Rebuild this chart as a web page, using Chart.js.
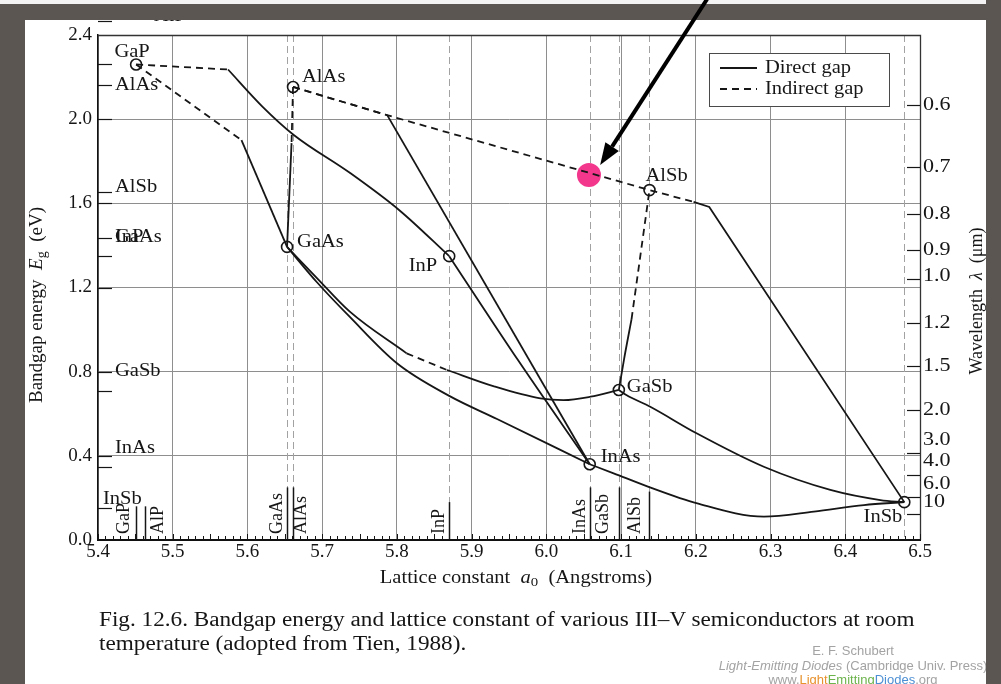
<!DOCTYPE html>
<html>
<head>
<meta charset="utf-8">
<script src="https://cdn.jsdelivr.net/npm/chart.js@4.4.1/dist/chart.umd.min.js"></script>
<style>
  html, body { margin: 0; padding: 0; background: #5b5651; }
  #wrap { position: relative; width: 1001px; height: 684px; overflow: hidden; }
  canvas { position: absolute; left: 0; top: 0; }
  .caption { position: absolute; left: 99px; top: 607px; font: 20px "Liberation Serif", serif; line-height: 24px; color: #151515; white-space: nowrap; transform: scaleX(1.16); transform-origin: 0 0; }
  .credit { position: absolute; left: 703px; width: 300px; text-align: center; font: 13px "Liberation Sans", Arial, sans-serif; color: #a3a3a3; white-space: nowrap; }
  #frameR { position: absolute; left: 986px; top: 0; width: 15px; height: 684px; background: #5b5651; }
</style>
</head>
<body>
<div id="wrap">
  <canvas id="gapChart" width="1001" height="684"></canvas>
  <div class="caption">Fig. 12.6. Bandgap energy and lattice constant of various III&ndash;V semiconductors at room<br>temperature (adopted from Tien, 1988).</div>
  <div class="credit" style="top:643px">E. F. Schubert</div>
  <div class="credit" style="top:658px"><i>Light-Emitting Diodes</i> (Cambridge Univ. Press)</div>
  <div class="credit" style="top:672px">www.<span style="color:#e8922e">Light</span><span style="color:#6cb34c">Emitting</span><span style="color:#4d8fd3">Diodes</span>.org</div>
  <div id="frameR"></div>
</div>
<script>
// ---- binary compounds: lattice constant a0 (Angstrom) and bandgap (eV) ----
const materials = ['GaP', 'AlP', 'AlAs', 'GaAs', 'InP', 'InAs', 'GaSb', 'AlSb', 'InSb'];
const latticeA  = [5.451, 5.463, 5.661, 5.653, 5.870, 6.058, 6.097, 6.138, 6.479];
const gapE      = [2.26, 2.465, 2.153, 1.393, 1.349, 0.360, 0.713, 1.663, 0.180];

// ternary lines, indirect gap (dashed)
const indGaP_InP   = [[5.451, 2.260], [5.574, 2.236]];
const indGaP_GaAs  = [[5.451, 2.260], [5.592, 1.900]];
const indAlAs_GaAs = [[5.661, 2.153], [5.659, 1.886]];
const indAlAs_InAs = [[5.661, 2.153], [5.787, 2.019]];
const indAlAs_AlSb = [[5.661, 2.153], [5.787, 2.019], [6.138, 1.663], [6.197, 1.607]];
const indGaAs_GaSb = [[5.813, 0.887], [5.867, 0.808]];
const indGaSb_AlSb = [[6.114, 1.050], [6.138, 1.663]];

// ternary lines, direct gap (solid)
const dirGaP_InP    = [[5.574, 2.236], [5.620, 2.060], [5.662, 1.925], [5.737, 1.745], [5.804, 1.565], [5.870, 1.349]];
const dirGaP_GaAs   = [[5.592, 1.900], [5.653, 1.393]];
const dirAlAs_GaAs  = [[5.659, 1.886], [5.653, 1.393]];
const dirAlAs_InAs  = [[5.787, 2.019], [6.058, 0.360]];
const dirAlSb_InSb  = [[6.197, 1.607], [6.218, 1.583], [6.479, 0.180]];
const dirInP_InAs   = [[5.870, 1.349], [5.962, 0.855], [6.058, 0.360]];
const dirGaAs_InAs  = [[5.653, 1.393], [5.693, 1.225], [5.737, 1.060], [5.800, 0.840], [5.870, 0.685], [5.934, 0.575], [6.058, 0.360]];
const dirGaAs_GaSb1 = [[5.653, 1.393], [5.693, 1.245], [5.737, 1.085], [5.813, 0.887]];
const dirGaAs_GaSb2 = [[5.867, 0.808], [5.930, 0.730], [5.992, 0.673], [6.023, 0.665], [6.059, 0.681], [6.097, 0.713]];
const dirGaSb_AlSb  = [[6.097, 0.713], [6.104, 0.860], [6.114, 1.050]];
const dirGaSb_InSb  = [[6.097, 0.713], [6.107, 0.689], [6.139, 0.633], [6.201, 0.507], [6.291, 0.348], [6.380, 0.238], [6.447, 0.190], [6.479, 0.180]];
const dirInAs_InSb  = [[6.058, 0.360], [6.090, 0.317], [6.135, 0.255], [6.202, 0.174], [6.291, 0.111], [6.358, 0.135], [6.425, 0.166], [6.479, 0.180]];

// highlighted point on the AlAs-AlSb line
const markA = [6.057];
const markE = [1.735];

// axis annotations
const leftTickE    = [2.465, 2.26, 2.16, 1.653, 1.435, 1.349, 0.708, 0.347, 0.152];
const leftLabels   = ['AlAs', 'AlSb', 'GaAs', 'InP', 'GaSb', 'InAs', 'InSb'];
const leftLabelE   = [2.160, 1.677, 1.437, 1.437, 0.803, 0.437, 0.195];
const lambdaTicks  = [0.6, 0.7, 0.8, 0.9, 1.0, 1.2, 1.5, 2.0, 3.0, 4.0, 6.0, 10];
const lambdaLabels = ['0.6', '0.7', '0.8', '0.9', '1.0', '1.2', '1.5', '2.0', '3.0', '4.0', '6.0', '10'];
const dashedLines  = ['GaAs', 'AlAs', 'InP', 'InAs', 'GaSb', 'AlSb', 'InSb'];
const footMats     = ['GaP', 'AlP', 'GaAs', 'AlAs', 'InP', 'InAs', 'GaSb', 'AlSb'];
const footTopE     = [0.16, 0.16, 0.25, 0.25, 0.18, 0.25, 0.25, 0.23];
const arrowFrom    = [6.215, 2.57];
const arrowTo      = [6.072, 1.782];

const INK = '#161616';
const GRID = '#8e8e8e';
const BG = '#5b5651';
const SERIF = '"Liberation Serif", "Times New Roman", serif';
const SX = 1.14;   // the scanned figure's lettering is a bit wide

const toXY = arr => arr.map(p => ({ x: p[0], y: p[1] }));
const aOf = m => latticeA[materials.indexOf(m)];

function seg(pts, dashed, smooth) {
    return {
        data: toXY(pts),
        showLine: true,
        borderColor: INK,
        borderWidth: 1.8,
        borderDash: dashed ? [7, 5] : [],
        pointRadius: 0,
        cubicInterpolationMode: smooth ? 'monotone' : 'default',
        tension: 0,
    };
}

// where the compound names go next to their circles (px offsets)
const pointLabelPos = {
    GaP:  { dx: -4, dy: -12, align: 'center' },
    AlP:  { dx: 9,  dy: -5,  align: 'left' },
    AlAs: { dx: 9,  dy: -10, align: 'left' },
    GaAs: { dx: 10, dy: -5,  align: 'left' },
    InP:  { dx: -12, dy: 10, align: 'right' },
    InAs: { dx: 11, dy: -7,  align: 'left' },
    GaSb: { dx: 8,  dy: -3,  align: 'left' },
    AlSb: { dx: -4, dy: -14, align: 'left' },
    InSb: { dx: -2, dy: 15,  align: 'right' },
};
const footLabelDx = { GaP: -13, AlP: 12, GaAs: -11, AlAs: 7, InP: -11, InAs: -10, GaSb: -17, AlSb: -15 };

function txt(ctx, s, x, y, align, sx) {
    ctx.save();
    ctx.translate(x, y);
    ctx.scale(sx || SX, 1);
    ctx.textAlign = align || 'left';
    ctx.fillText(s, 0, 0);
    ctx.restore();
}

function richText(ctx, parts, x, y, align, sx) {
    // parts: [text, font, dy]
    let w = 0;
    parts.forEach(p => { ctx.font = p[1]; w += ctx.measureText(p[0]).width; });
    ctx.save();
    ctx.translate(x, y);
    ctx.scale(sx || SX, 1);
    let cx = align === 'center' ? -w / 2 : 0;
    ctx.textAlign = 'left';
    parts.forEach(p => {
        ctx.font = p[1];
        ctx.fillText(p[0], cx, p[2] || 0);
        cx += ctx.measureText(p[0]).width;
    });
    ctx.restore();
}

const decor = {
    id: 'decor',
    beforeDraw(chart) {
        const ctx = chart.ctx;
        ctx.save();
        ctx.fillStyle = BG;
        ctx.fillRect(0, 0, chart.width, chart.height);
        ctx.fillStyle = '#ffffff';
        ctx.fillRect(25, 20, 961, 664);
        ctx.restore();
    },
    beforeDatasetsDraw(chart) {
        const { ctx, chartArea: ca, scales: { x, y } } = chart;
        ctx.save();
        // dashed verticals at the binary lattice constants
        ctx.strokeStyle = '#a2a2a2';
        ctx.lineWidth = 1;
        ctx.setLineDash([7, 4]);
        dashedLines.forEach(m => {
            const px = Math.round(x.getPixelForValue(aOf(m))) + 0.5;
            ctx.beginPath(); ctx.moveTo(px, ca.top); ctx.lineTo(px, ca.bottom); ctx.stroke();
        });
        ctx.setLineDash([]);
        // solid foot markers
        ctx.strokeStyle = INK;
        ctx.lineWidth = 1.5;
        footMats.forEach((m, i) => {
            const px = Math.round(x.getPixelForValue(aOf(m))) + 0.5;
            ctx.beginPath(); ctx.moveTo(px, ca.bottom); ctx.lineTo(px, y.getPixelForValue(footTopE[i])); ctx.stroke();
        });
        // frame top + right
        ctx.strokeStyle = '#333';
        ctx.lineWidth = 1.3;
        ctx.beginPath();
        ctx.moveTo(ca.left, ca.top + 0.5); ctx.lineTo(ca.right + 0.5, ca.top + 0.5); ctx.lineTo(ca.right + 0.5, ca.bottom);
        ctx.stroke();
        // minor ticks on x axis (inward)
        ctx.strokeStyle = INK;
        ctx.lineWidth = 1;
        for (let k = 0; k <= 110; k++) {
            const px = Math.round(x.getPixelForValue(5.4 + k * 0.01)) + 0.5;
            const len = k % 5 === 0 ? 6 : 4;
            ctx.beginPath(); ctx.moveTo(px, ca.bottom); ctx.lineTo(px, ca.bottom - len); ctx.stroke();
        }
        // inward ticks on left axis
        ctx.lineWidth = 1.2;
        const majors = [0.4, 0.8, 1.2, 1.6, 2.0];
        majors.concat(leftTickE).forEach(e => {
            const py = Math.round(y.getPixelForValue(e)) + 0.5;
            ctx.beginPath(); ctx.moveTo(ca.left, py); ctx.lineTo(ca.left + 14, py); ctx.stroke();
        });
        // wavelength ticks on right axis (inward)
        lambdaTicks.forEach(l => {
            const py = Math.round(y.getPixelForValue(1.24 / l)) + 0.5;
            ctx.beginPath(); ctx.moveTo(ca.right - 13, py); ctx.lineTo(ca.right, py); ctx.stroke();
        });
        ctx.restore();
    },
    afterDatasetsDraw(chart) {
        const { ctx, chartArea: ca, scales: { x, y } } = chart;
        ctx.save();
        ctx.fillStyle = INK;
        ctx.textBaseline = 'middle';
        ctx.font = '18px ' + SERIF;
        // labels at the circles
        materials.forEach((m, i) => {
            const p = pointLabelPos[m];
            txt(ctx, m, x.getPixelForValue(latticeA[i]) + p.dx, y.getPixelForValue(gapE[i]) + p.dy, p.align);
        });
        // labels along the energy axis
        leftLabels.forEach((t, i) => {
            const lx = t === 'InSb' ? ca.left + 5 : ca.left + 17;
            txt(ctx, t, lx, y.getPixelForValue(leftLabelE[i]), 'left');
        });
        // rotated labels at the feet
        footMats.forEach(m => {
            ctx.save();
            ctx.translate(x.getPixelForValue(aOf(m)) + footLabelDx[m], ca.bottom - 6);
            ctx.rotate(-Math.PI / 2);
            ctx.textAlign = 'left';
            ctx.fillText(m, 0, 1);
            ctx.restore();
        });
        // wavelength labels
        ctx.font = '19px ' + SERIF;
        const shift = [0, 0, 0, 0, -3, 0, 0, 0, -13, -14, -12, -12];
        lambdaTicks.forEach((l, i) => {
            txt(ctx, lambdaLabels[i], ca.right + 3, y.getPixelForValue(1.24 / l) + shift[i], 'left', 1.16);
        });
        // axis titles
        const f = '18px ' + SERIF, fi = 'italic 18px ' + SERIF, fs = '13px ' + SERIF;
        richText(ctx, [['Lattice constant  ', f], ['a', fi], ['0', fs, 5], ['  (Angstroms)', f]], 516, 578, 'center');
        const f2 = '19px ' + SERIF, fi2 = 'italic 19px ' + SERIF, fs2 = '14px ' + SERIF;
        ctx.save();
        ctx.translate(37, 305); ctx.rotate(-Math.PI / 2);
        richText(ctx, [['Bandgap energy  ', f2], ['E', fi2], ['g', fs2, 5], ['  (eV)', f2]], 0, 0, 'center', 1);
        ctx.restore();
        ctx.save();
        ctx.translate(977, 301); ctx.rotate(-Math.PI / 2);
        richText(ctx, [['Wavelength  ', f], ['\u03bb', fi], ['  (\u03bcm)', f]], 0, 0, 'center', 1);
        ctx.restore();
        // legend box
        ctx.fillStyle = '#fff';
        ctx.fillRect(709.5, 53.5, 180, 53);
        ctx.strokeStyle = '#4a4a4a'; ctx.lineWidth = 1;
        ctx.strokeRect(709.5, 53.5, 180, 53);
        ctx.strokeStyle = INK; ctx.lineWidth = 1.8;
        ctx.beginPath(); ctx.moveTo(720, 68); ctx.lineTo(757, 68); ctx.stroke();
        ctx.setLineDash([7, 5]);
        ctx.beginPath(); ctx.moveTo(720, 89); ctx.lineTo(757, 89); ctx.stroke();
        ctx.setLineDash([]);
        ctx.fillStyle = INK; ctx.font = '18px ' + SERIF;
        txt(ctx, 'Direct gap', 765, 68, 'left');
        txt(ctx, 'Indirect gap', 765, 89, 'left');
        // slide frame over the top
        ctx.fillStyle = BG; ctx.fillRect(0, 4, chart.width, 16);
        ctx.fillStyle = '#f3f3f3'; ctx.fillRect(0, 0, chart.width, 4);
        // arrow
        const x0 = x.getPixelForValue(arrowFrom[0]), y0 = y.getPixelForValue(arrowFrom[1]);
        const x1 = x.getPixelForValue(arrowTo[0]), y1 = y.getPixelForValue(arrowTo[1]);
        const ang = Math.atan2(y1 - y0, x1 - x0);
        const hl = 22, hw = 8;
        const bx = x1 - hl * Math.cos(ang), by = y1 - hl * Math.sin(ang);
        ctx.strokeStyle = '#000'; ctx.lineWidth = 4;
        ctx.beginPath(); ctx.moveTo(x0, y0); ctx.lineTo(bx, by); ctx.stroke();
        ctx.fillStyle = '#000';
        ctx.beginPath();
        ctx.moveTo(x1, y1);
        ctx.lineTo(bx + hw * Math.sin(ang), by - hw * Math.cos(ang));
        ctx.lineTo(bx - hw * Math.sin(ang), by + hw * Math.cos(ang));
        ctx.closePath(); ctx.fill();
        ctx.restore();
    },
};

const datasets = [
    seg(indGaP_InP, true), seg(indGaP_GaAs, true), seg(indAlAs_GaAs, true),
    seg(indAlAs_InAs, true), seg(indAlAs_AlSb, true), seg(indGaAs_GaSb, true, true),
    seg(indGaSb_AlSb, true),
    seg(dirGaP_InP, false, true), seg(dirGaP_GaAs, false), seg(dirAlAs_GaAs, false),
    seg(dirAlAs_InAs, false), seg(dirAlSb_InSb, false), seg(dirInP_InAs, false, true),
    seg(dirGaAs_InAs, false, true), seg(dirGaAs_GaSb1, false, true), seg(dirGaAs_GaSb2, false, true),
    seg(dirGaSb_AlSb, false, true), seg(dirGaSb_InSb, false, true), seg(dirInAs_InSb, false, true),
    {
        data: markA.map((a, i) => ({ x: a, y: markE[i] })),
        pointRadius: 12, pointBackgroundColor: '#f2378c', pointBorderWidth: 0, showLine: false,
    },
    {
        data: materials.map((m, i) => ({ x: latticeA[i], y: gapE[i] })),
        pointRadius: 5.5, pointBackgroundColor: '#fff', pointBorderColor: INK, pointBorderWidth: 1.6,
        showLine: false, clip: false,
    },
];

new Chart(document.getElementById('gapChart'), {
    type: 'scatter',
    data: { datasets },
    options: {
        responsive: false,
        animation: false,
        devicePixelRatio: 1,
        layout: { padding: { top: 35, right: 81, left: 0, bottom: 0 } },
        plugins: { legend: { display: false }, tooltip: { enabled: false } },
        scales: {
            x: {
                type: 'linear', min: 5.4, max: 6.5,
                afterFit: s => { s.height = 144; },
                ticks: { stepSize: 0.1, padding: 1, color: INK, maxRotation: 0, autoSkip: false,
                         font: { family: SERIF, size: 19 }, callback: v => v.toFixed(1) },
                grid: { color: GRID, lineWidth: 1, drawTicks: false },
                border: { color: '#111', width: 2 },
            },
            y: {
                min: 0, max: 2.4,
                afterFit: s => { s.width = 98; },
                ticks: { stepSize: 0.4, padding: 6, color: INK,
                         font: { family: SERIF, size: 19 }, callback: v => v.toFixed(1) },
                grid: { color: GRID, lineWidth: 1, drawTicks: false },
                border: { color: '#111', width: 1.5 },
            },
        },
    },
    plugins: [decor],
});
</script>
</body>
</html>
